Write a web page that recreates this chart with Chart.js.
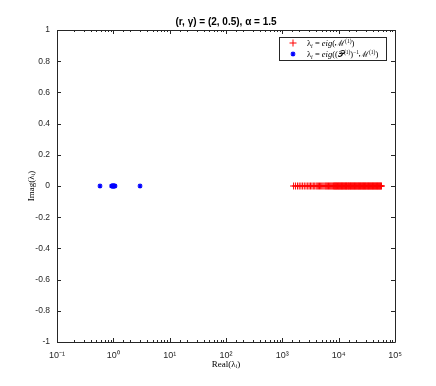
<!DOCTYPE html>
<html>
<head>
<meta charset="utf-8">
<script src="https://cdn.jsdelivr.net/npm/chart.js@4/dist/chart.umd.min.js"></script>
<style>
  html, body { margin: 0; padding: 0; background: #fff; }
  #wrap { width: 436px; height: 386px; }
</style>
</head>
<body>
<div id="wrap"><canvas id="chart" width="436" height="386"></canvas></div>
<script>
// eigenvalues of M^(1) (all real)
let eigM = [1585, 1718, 1862, 1995, 2138, 2291, 2455, 2630, 2818, 2985, 3162, 3350, 3548,
    3758, 3981, 4169, 4365, 4571, 4786, 5012, 5248, 5495, 5754, 5957, 6166, 6383, 6607,
    6839, 7079, 7328, 7586, 7852, 8128, 8318, 8511, 8710, 8913, 9100, 9300, 9550, 9800,
    10000, 10250, 10500, 10700, 11000, 11200, 11500, 11750, 12000, 12300, 12600, 12900,
    13200, 13500, 13800, 14100, 14500, 14800, 15100, 15500, 15900, 16200, 16600, 17000,
    17400, 17800, 18200, 18600, 19100, 19500, 20000, 20400, 20900, 21400, 21900, 22400,
    22900, 23400, 24000, 24500, 25100, 25700, 26300, 26900, 27500, 28100, 28800, 29500,
    30100, 30800, 31600, 32300, 33100, 33800, 34600, 35400, 36300, 37100, 38000, 38900,
    39800, 40700, 41700, 42600, 43600, 44700, 45700, 46800, 47900, 49000, 50100, 51300,
    52500, 53700, 55000, 56200, 57500];
// eigenvalues of preconditioned matrix
let eigPM = [0.58, 0.93, 0.96, 0.98, 1.0, 1.02, 1.04, 1.07, 2.98];

let xTickExps = [-1, 0, 1, 2, 3, 4, 5];
let yTicks = [-1, -0.8, -0.6, -0.4, -0.2, 0, 0.2, 0.4, 0.6, 0.8, 1];

let titleText = '(r, \u03b3) = (2, 0.5), \u03b1 = 1.5';
// legend text as runs: [text, kind] where kind is '' (normal), 'it', 'sub' or 'sup'
let legendRuns = [
    [['\u03bb', ''], ['i', 'sub'], [' = ', ''], ['eig', 'it'], ['(', ''], ['\u2133', ''], ['(1)', 'sup'], [')', '']],
    [['\u03bb', ''], ['i', 'sub'], [' = ', ''], ['eig', 'it'], ['((', ''], ['\ud835\udcab', ''], ['(1)', 'sup'], [')', ''],
     ['\u22121', 'sup'], ['\u2133', ''], ['(1)', 'sup'], [')', '']]
];
let legendLabels = ['\u03bb\u1d62 = eig(\u2133\u207d\u00b9\u207e)',
    '\u03bb\u1d62 = eig((\ud835\udcab\u207d\u00b9\u207e)\u207b\u00b9\u2133\u207d\u00b9\u207e)'];

const SANS = '"Liberation Sans", Arial, sans-serif';
const SERIF = '"Liberation Serif", "DejaVu Serif", serif';
const AXIS = '#262626';

function sup(n) {
    const m = {'-': '\u207b', '0': '\u2070', '1': '\u00b9', '2': '\u00b2', '3': '\u00b3',
        '4': '\u2074', '5': '\u2075', '6': '\u2076', '7': '\u2077', '8': '\u2078', '9': '\u2079'};
    return String(n).split('').map(c => m[c]).join('');
}

function drawRuns(ctx, runs, x, y) {
    ctx.textBaseline = 'alphabetic';
    ctx.textAlign = 'left';
    runs.forEach(([t, k]) => {
        let size = 8.5, dy = 0, style = '';
        if (k === 'sub') { size = 6; dy = 2; style = 'italic '; }
        if (k === 'sup') { size = 5.5; dy = -3.5; }
        if (k === 'it') { style = 'italic '; }
        ctx.font = style + size + 'px ' + SERIF;
        ctx.fillText(t, x, y + dy);
        x += ctx.measureText(t).width;
    });
}

const boxPlugin = {
    id: 'box',
    afterDraw(chart) {
        const ctx = chart.ctx;
        const a = chart.chartArea;
        const xs = chart.scales.x, ys = chart.scales.y;
        ctx.save();
        ctx.strokeStyle = AXIS;
        ctx.lineWidth = 1;
        ctx.beginPath();
        ctx.rect(Math.round(a.left) + 0.5, Math.round(a.top) + 0.5,
            Math.round(a.right - a.left), Math.round(a.bottom - a.top));
        ctx.stroke();
        // ticks pointing inwards, top and bottom
        ctx.beginPath();
        xs.ticks.forEach(t => {
            const e = Math.log10(t.value);
            const major = Math.abs(e - Math.round(e)) < 1e-6;
            const len = major ? 4 : 2;
            const px = Math.round(xs.getPixelForValue(t.value)) + 0.5;
            ctx.moveTo(px, a.bottom); ctx.lineTo(px, a.bottom - len);
            ctx.moveTo(px, a.top); ctx.lineTo(px, a.top + len);
        });
        yTicks.forEach(v => {
            const py = Math.round(ys.getPixelForValue(v)) + 0.5;
            ctx.moveTo(a.left, py); ctx.lineTo(a.left + 4, py);
            ctx.moveTo(a.right, py); ctx.lineTo(a.right - 4, py);
        });
        ctx.stroke();

        // title, centred over the plot area
        ctx.fillStyle = '#000';
        ctx.font = 'bold 10px ' + SANS;
        ctx.textAlign = 'center';
        ctx.textBaseline = 'middle';
        ctx.fillText(titleText, (a.left + a.right) / 2, 22);

        // legend
        const lx = 279, ly = 37, lw = 107, lh = 23;
        ctx.fillStyle = '#fff';
        ctx.fillRect(lx, ly, lw, lh);
        ctx.strokeStyle = '#262626';
        ctx.strokeRect(lx + 0.5, ly + 0.5, lw, lh);
        const ds = chart.data.datasets;
        [43, 54].forEach((y, i) => {
            ctx.strokeStyle = ds[i].borderColor;
            ctx.fillStyle = ds[i].borderColor;
            ctx.lineWidth = ds[i].borderWidth;
            Chart.helpers.drawPoint(ctx, {pointStyle: ds[i].pointStyle, radius: ds[i].radius,
                borderWidth: ds[i].borderWidth}, 293, y);
            ctx.fillStyle = '#000';
            drawRuns(ctx, legendRuns[i], 307, y + 3);
        });
        ctx.restore();
    }
};

const chart = new Chart(document.getElementById('chart'), {
    type: 'scatter',
    data: {
        datasets: [{
            label: legendLabels[0],
            data: eigM.map(v => ({x: v, y: 0})),
            pointStyle: 'cross',
            radius: 3.5,
            borderWidth: 1,
            borderColor: '#ff0000',
            backgroundColor: '#ff0000'
        }, {
            label: legendLabels[1],
            data: eigPM.map(v => ({x: v, y: 0})),
            pointStyle: 'star',
            radius: 2.5,
            borderWidth: 1.2,
            borderColor: '#0000ff',
            backgroundColor: '#0000ff'
        }]
    },
    options: {
        responsive: false,
        animation: false,
        layout: { padding: { left: 26, right: 41, top: 30, bottom: 16 } },
        plugins: {
            legend: { display: false },
            tooltip: { enabled: false },
            title: { display: false }
        },
        scales: {
            x: {
                type: 'logarithmic',
                min: 0.1,
                max: 100000,
                grid: { display: false, drawTicks: false },
                border: { display: false },
                afterFit: s => { s.height = 28; },
                ticks: {
                    autoSkip: false,
                    maxRotation: 0,
                    padding: 8,
                    color: AXIS,
                    font: { family: SANS, size: 9 },
                    callback: function (v) {
                        const e = Math.log10(v);
                        const r = Math.round(e);
                        if (Math.abs(e - r) < 1e-6 && xTickExps.includes(r)) return '10' + sup(r);
                        return '';
                    }
                },
                title: {
                    display: true,
                    text: 'Real(\u03bb\u1d62)',
                    color: '#000',
                    font: { family: SERIF, size: 9 },
                    padding: { top: 0, bottom: 0 }
                }
            },
            y: {
                min: -1,
                max: 1,
                grid: { display: false, drawTicks: false },
                border: { display: false },
                afterFit: s => { s.width = 31; },
                afterBuildTicks: s => { s.ticks = yTicks.map(v => ({value: v})); },
                ticks: {
                    padding: 7,
                    color: AXIS,
                    font: { family: SANS, size: 8.5 },
                    callback: v => String(Math.round(v * 10) / 10)
                },
                title: {
                    display: true,
                    text: 'Imag(\u03bb\u1d62)',
                    color: '#000',
                    font: { family: SERIF, size: 9 },
                    padding: { top: 0, bottom: 0 }
                }
            }
        }
    },
    plugins: [boxPlugin]
});
</script>
</body>
</html>
